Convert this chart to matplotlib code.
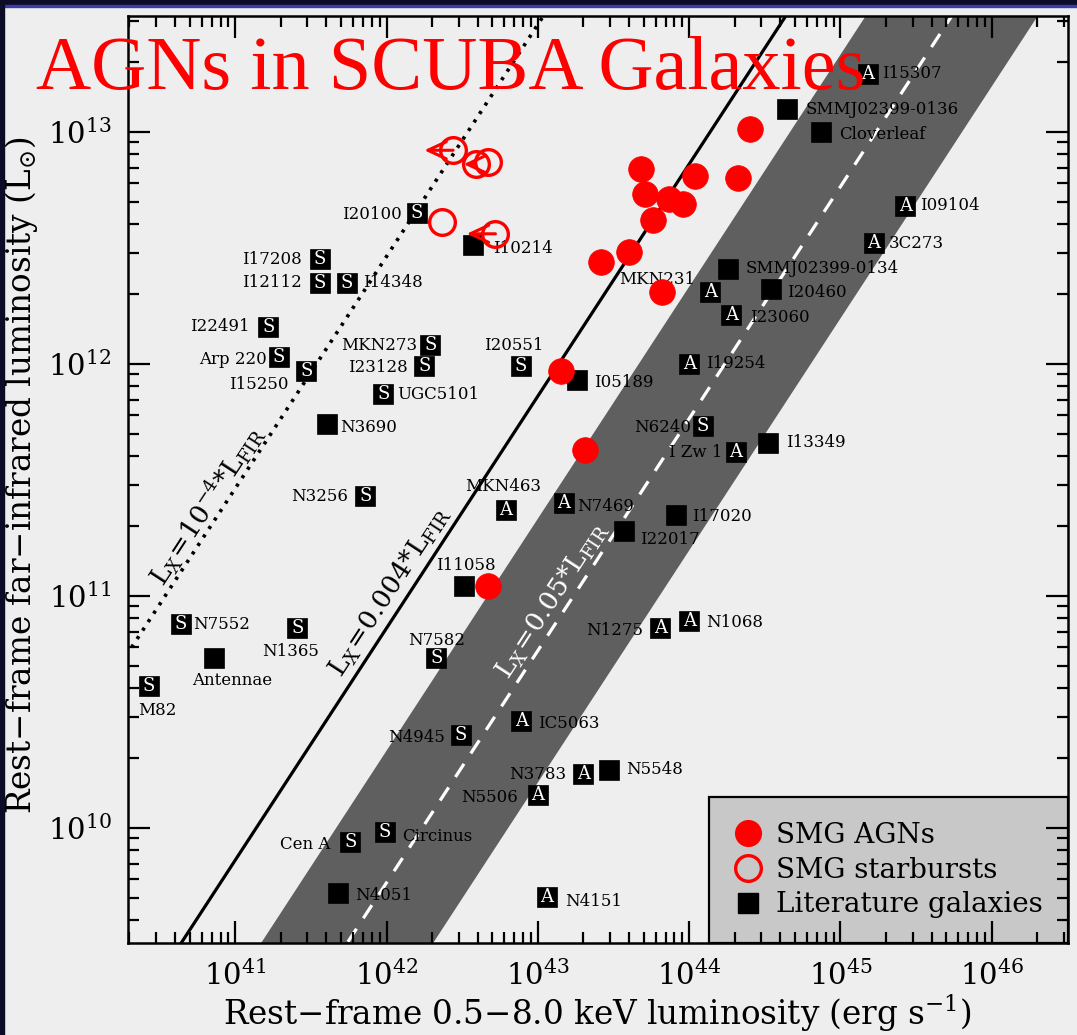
import numpy as np
import matplotlib
matplotlib.use("Agg")
import matplotlib.pyplot as plt
from matplotlib.lines import Line2D
from matplotlib.patches import Rectangle
from matplotlib.ticker import LogLocator, NullFormatter, FixedLocator

plt.rcParams['font.family'] = ['DejaVu Serif']
plt.rcParams['mathtext.fontset'] = 'dejavuserif'

# ---------------- data (log10 values) ----------------
# SMG AGNs (filled red circles)
agn_log_lx = [44.40, 43.68, 44.04, 44.32, 43.71, 43.87, 43.96, 43.76, 43.60,
              43.42, 43.82, 43.15, 43.31, 42.67]
agn_log_lfir = [13.01, 12.84, 12.81, 12.80, 12.73, 12.71, 12.69, 12.62, 12.48,
                12.44, 12.31, 11.97, 11.63, 11.04]

# SMG starbursts (open red circles); some are X-ray upper limits
sb_log_lx = [42.44, 42.59, 42.67, 42.37, 42.72]
sb_log_lfir = [12.92, 12.86, 12.87, 12.61, 12.56]
sb_limit_log_lx = [42.25, 42.51, None, None, 42.53]

# Literature galaxies
lit_names = ["I15307", "SMMJ02399-0136", "Cloverleaf", "I09104", "3C273",
             "SMMJ02399-0134", "I20460", "MKN231", "I23060", "I20100",
             "I10214", "I17208", "I12112", "I14348", "I22491", "MKN273",
             "Arp 220", "I15250", "I23128", "I20551", "I05189", "UGC5101",
             "I19254", "N3690", "N6240", "I Zw 1", "I13349", "N3256",
             "MKN463", "N7469", "I17020", "I22017", "I11058", "N7552",
             "N1365", "N1275", "N1068", "Antennae", "N7582", "M82", "N4945",
             "IC5063", "N3783", "N5548", "N5506", "Cen A", "Circinus",
             "N4051", "N4151"]
lit_class = ["A", "", "", "A", "A", "", "", "A", "A", "S",
             "", "S", "S", "S", "S", "S", "S", "S", "S", "S",
             "", "S", "A", "", "S", "A", "", "S", "A", "A",
             "", "", "", "S", "S", "A", "A", "", "S", "S",
             "S", "A", "A", "", "A", "S", "S", "", "A"]
lit_log_lx = [45.18, 44.65, 44.87, 45.43, 45.22, 44.26, 44.54, 44.14, 44.28,
              42.20, 42.57, 41.56, 41.56, 41.74, 41.22, 42.29, 41.29, 41.47,
              42.25, 42.89, 43.26, 41.98, 44.00, 41.61, 44.09, 44.31, 44.52,
              41.86, 42.79, 43.17, 43.91, 43.57, 42.51, 40.64, 41.41, 43.81,
              44.00, 40.86, 42.33, 40.43, 42.49, 42.89, 43.30, 43.47, 43.00,
              41.76, 41.99, 41.68, 43.06]
lit_log_lfir = [13.25, 13.10, 13.00, 12.68, 12.52, 12.41, 12.32, 12.31, 12.21,
                12.65, 12.51, 12.45, 12.35, 12.35, 12.16, 12.08, 12.03, 11.97,
                11.99, 11.99, 11.93, 11.87, 12.00, 11.74, 11.73, 11.62, 11.66,
                11.43, 11.37, 11.40, 11.35, 11.28, 11.04, 10.88, 10.86, 10.86,
                10.89, 10.73, 10.73, 10.61, 10.40, 10.46, 10.23, 10.25, 10.14,
                9.94, 9.98, 9.72, 9.70]

# label placement (layout only): offset in pixels (right, down) and alignment
lit_label_dx = [14, 18, 18, 15, 15, 17, 16, -15, 19, -15, 20, -18, -18, 16, -19,
                -13, -12, -18, -17, -7, 17, 14, 17, 13, -12, -14, 18, -17, -3,
                14, 17, 16, 2, 12, -7, -17, 17, 18, 0, 8, -16, 17, -17, 17, -20,
                -20, 17, 17, 18]
lit_label_dy = [0, 1, 3, 0, 0, 0, 3, -12, 2, 2, 3, 0, 0, 0, 0, 0, 3, 14, 1, -21,
                3, 1, 0, 3, 1, 1, 0, 1, -23, 4, 2, 9, -21, 1, 23, 2, 1, 22, -18,
                24, 3, 2, 0, 0, 2, 3, 4, 3, 4]
lit_label_ha = ["left", "left", "left", "left", "left", "left", "left", "right",
                "left", "right", "left", "right", "right", "left", "right",
                "right", "right", "right", "right", "center", "left", "left",
                "left", "left", "right", "right", "left", "right", "center",
                "left", "left", "left", "center", "left", "center", "right",
                "left", "center", "center", "center", "right", "left", "right",
                "left", "right", "right", "left", "left", "left"]

# reference relations L_X = ratio * L_FIR
line_ratios = [1e-4, 0.004, 0.05]
band_ratios = [0.0135, 0.185]
LSUN_ERG = 3.45e33          # conversion L_sun -> erg/s as drawn
xlim = (10**40.2935, 10**46.502)
ylim = (10**9.502, 10**13.5)

# ---------------- figure ----------------
W, H = 1077, 1035
fig = plt.figure(figsize=(W / 100, H / 100), dpi=100)
fig.patch.set_facecolor('#eeeeee')
ax = fig.add_axes([128.3 / W, 1 - 943.3 / H, (1067.7 - 128.3) / W, (943.3 - 15.7) / H])
ax.set_facecolor('#eeeeee')
ax.set_xscale('log')
ax.set_yscale('log')
ax.set_xlim(*xlim)
ax.set_ylim(*ylim)

lfir = np.array([1e8, 1e15])
ax.fill_betweenx(lfir, band_ratios[0] * lfir * LSUN_ERG, band_ratios[1] * lfir * LSUN_ERG,
                 color='#5f5f5f', lw=0, zorder=1)
ax.plot(line_ratios[0] * lfir * LSUN_ERG, lfir, color='black', lw=2.6,
        ls=(0, (0.9, 1.9)), zorder=1.6)
ax.plot(line_ratios[1] * lfir * LSUN_ERG, lfir, color='black', lw=2.3, zorder=1.6)
ax.plot(line_ratios[2] * lfir * LSUN_ERG, lfir, color='white', lw=2.3,
        ls=(0, (4.9, 3.9)), zorder=1.6)

# line labels (rotated along the lines)
def slope_angle():
    p1 = ax.transData.transform((1e42, 1e11))
    p2 = ax.transData.transform((1e43, 1e12))
    return np.degrees(np.arctan2(p2[1] - p1[1], p2[0] - p1[0]))

ang = slope_angle()
line_label_text = [r"$\mathrm{L_X\!=\!10^{-4}{*}L_{FIR}}$",
                   r"$\mathrm{L_X\!=\!0.004{*}L_{FIR}}$",
                   r"$\mathrm{L_X\!=\!0.05{*}L_{FIR}}$"]
line_label_pos = [(10**40.81, 10**11.39), (10**42.02, 10**11.02), (10**43.09, 10**10.98)]
line_label_col = ['black', 'black', 'white']
for t, p, c in zip(line_label_text, line_label_pos, line_label_col):
    ax.text(p[0], p[1], t, rotation=ang, rotation_mode='anchor', ha='center',
            va='center', fontsize=19, color=c, zorder=2)

# literature galaxies
lit_x = 10 ** np.array(lit_log_lx)
lit_y = 10 ** np.array(lit_log_lfir)
ax.plot(lit_x, lit_y, ls='none', marker='s', ms=14.4, mfc='black', mec='black',
        mew=0.5, zorder=3)
for i, name in enumerate(lit_names):
    if lit_class[i]:
        ax.text(lit_x[i], lit_y[i], lit_class[i], color='white', fontsize=13,
                ha='center', va='center', zorder=3.5)
    ax.annotate(name, (lit_x[i], lit_y[i]), xytext=(lit_label_dx[i], -lit_label_dy[i]),
                textcoords='offset pixels', ha=lit_label_ha[i], va='center',
                fontsize=12, color='black', zorder=3.6)

# SMG starbursts
sb_x = 10 ** np.array(sb_log_lx)
sb_y = 10 ** np.array(sb_log_lfir)
for i in range(len(sb_x)):
    if sb_limit_log_lx[i] is not None:
        ax.annotate('', xy=(10 ** sb_limit_log_lx[i], sb_y[i]), xytext=(sb_x[i], sb_y[i]),
                    arrowprops=dict(arrowstyle='->,head_length=0.6,head_width=0.28',
                                    color='red', lw=2.2, mutation_scale=22,
                                    shrinkA=0, shrinkB=0), zorder=4)
ax.plot(sb_x, sb_y, ls='none', marker='o', ms=18.5, mfc='none', mec='red',
        mew=2.4, zorder=4)

# SMG AGNs
ax.plot(10 ** np.array(agn_log_lx), 10 ** np.array(agn_log_lfir), ls='none',
        marker='o', ms=18.5, mfc='red', mec='red', mew=0.5, zorder=4.2)

# ticks
ax.set_axisbelow(False)
ax.xaxis.set_major_locator(FixedLocator([1e41, 1e42, 1e43, 1e44, 1e45, 1e46]))
ax.yaxis.set_major_locator(FixedLocator([1e10, 1e11, 1e12, 1e13]))
ax.xaxis.set_minor_locator(LogLocator(base=10, subs=np.arange(2, 10), numticks=30))
ax.yaxis.set_minor_locator(LogLocator(base=10, subs=np.arange(2, 10), numticks=30))
ax.xaxis.set_minor_formatter(NullFormatter())
ax.yaxis.set_minor_formatter(NullFormatter())
ax.set_xticklabels([r"$10^{%d}$" % e for e in range(41, 47)])
ax.set_yticklabels([r"$10^{%d}$" % e for e in range(10, 14)])
ax.tick_params(which='both', direction='in', top=True, right=True, width=1.6,
               color='black')
ax.tick_params(which='major', length=16, labelsize=21, pad=12)
ax.tick_params(which='minor', length=8)
for s in ax.spines.values():
    s.set_linewidth(1.8)

ax.set_xlabel(r"Rest$-$frame 0.5$-$8.0 keV luminosity (erg s$^{-1}$)", fontsize=23.5)
ax.set_ylabel(r"Rest$-$frame far$-$infrared luminosity (L$_{\odot}$)", fontsize=23.5)
ax.xaxis.set_label_coords(0.499, -0.054)
ax.yaxis.set_label_coords(-0.094, 0.505)

# legend
handles = [Line2D([], [], ls='none', marker='o', ms=18.5, mfc='red', mec='red'),
           Line2D([], [], ls='none', marker='o', ms=18.5, mfc='none', mec='red', mew=2.4),
           Line2D([], [], ls='none', marker='s', ms=14.4, mfc='black', mec='black')]
leg = ax.legend(handles, ["SMG AGNs", "SMG starbursts", "Literature galaxies"],
                loc='lower right', bbox_to_anchor=(1, 0), borderaxespad=0,
                fontsize=20, frameon=True, fancybox=False, framealpha=1,
                facecolor='#c8c8c8', edgecolor='black', borderpad=0.9,
                labelspacing=0.28, handlelength=1.0, handletextpad=0.5)
leg.get_frame().set_linewidth(1.6)
leg.set_zorder(2.4)

# title
fig.text(36 / W, 1 - 89 / H, "AGNs in SCUBA Galaxies", color='#ff0000', fontsize=55,
         family='Liberation Serif', ha='left', va='baseline', zorder=10)

# slide frame
fig.patches.append(Rectangle((0, 1 - 5 / H), 1, 5 / H, transform=fig.transFigure,
                             color='#0c0c26', zorder=0))
fig.patches.append(Rectangle((0, 1 - 7 / H), 1, 2 / H, transform=fig.transFigure,
                             color='#3c3ca8', zorder=0))
fig.patches.append(Rectangle((0, 0), 4 / W, 1, transform=fig.transFigure,
                             color='#0c0c26', zorder=0))

fig.savefig("out.png", dpi=100, facecolor=fig.get_facecolor())
